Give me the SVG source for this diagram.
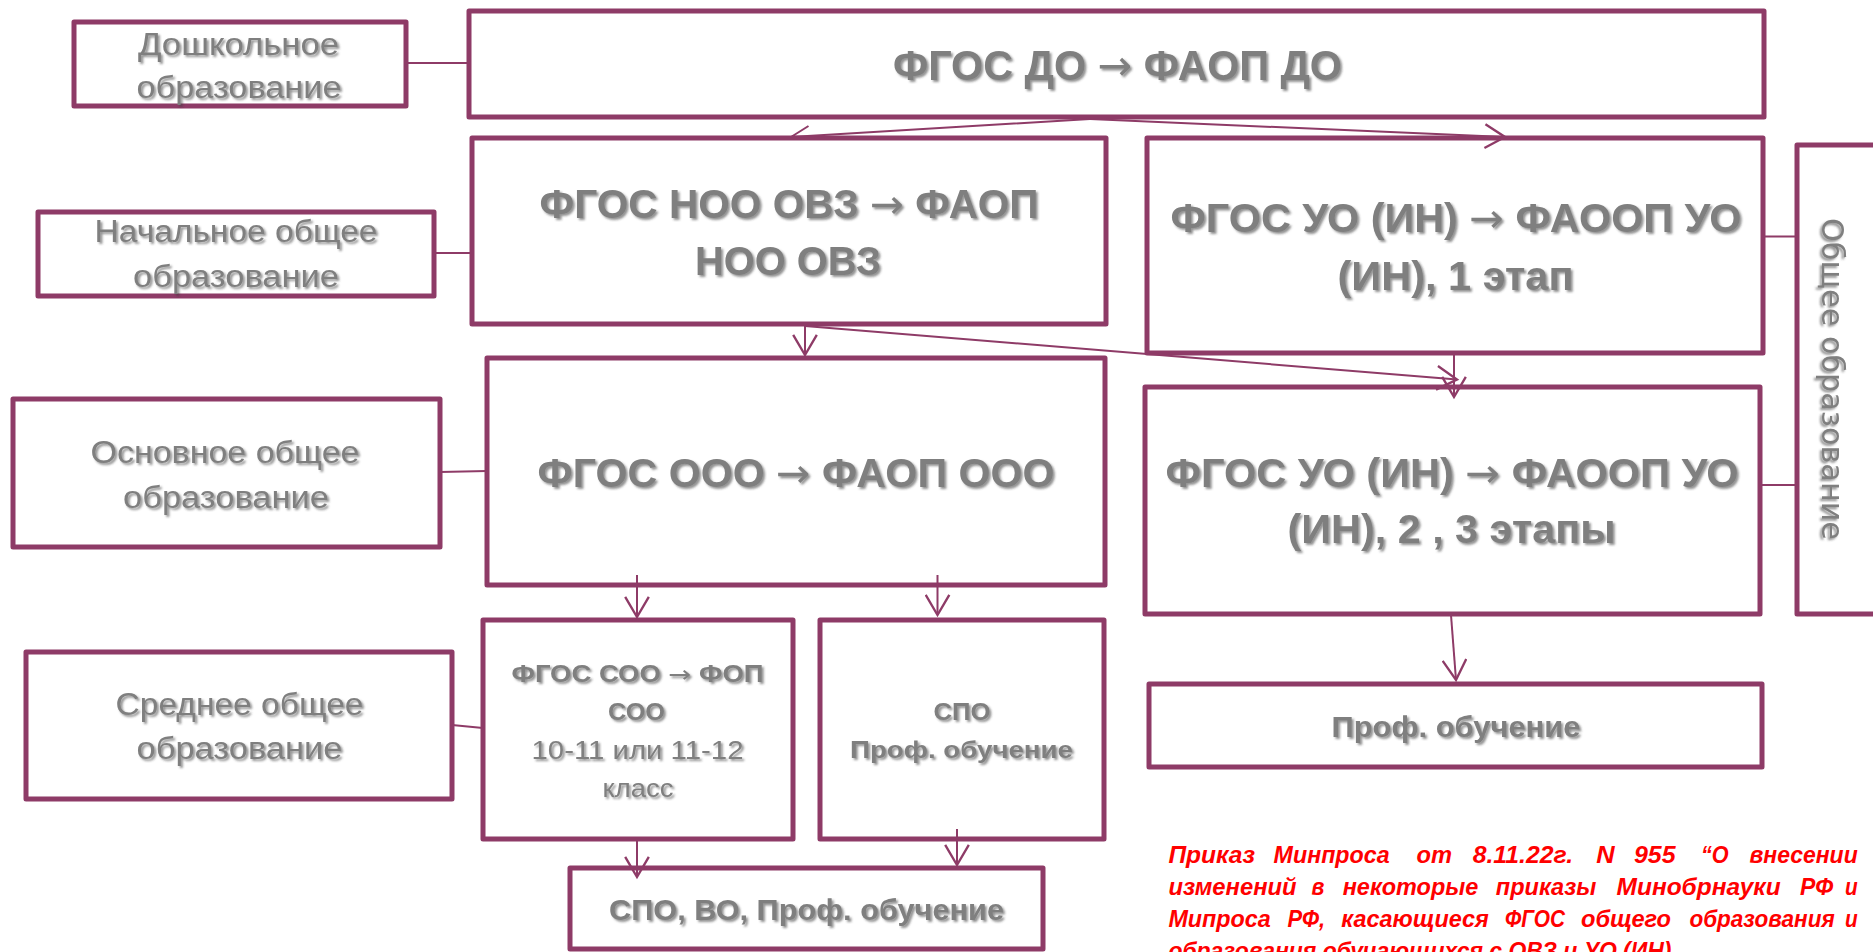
<svg xmlns="http://www.w3.org/2000/svg" width="1873" height="952" viewBox="0 0 1873 952">
<style>
.box{fill:#fff;stroke:#8e3b67;stroke-width:5;stroke-linejoin:round}
.conn{fill:none;stroke:#8e3b67;stroke-width:2}
.arr{marker-end:url(#ah)}
.t{font-family:"Liberation Sans",Arial,sans-serif;fill:#7f7f7f;text-anchor:middle;filter:url(#sh)}
.b{font-weight:bold}
.lbl{font-size:31px}
.big{font-size:40px}
.ar{font-family:"DejaVu Sans",sans-serif;font-weight:normal}
.red{font-family:"Liberation Sans",Arial,sans-serif;font-size:23.5px;font-weight:bold;font-style:italic;fill:#ff0000}
</style>
<defs>
<filter id="sh" x="-10%" y="-30%" width="120%" height="160%">
<feDropShadow dx="2" dy="2" stdDeviation="1.2" flood-color="#3a3a3a" flood-opacity="0.55"/>
</filter>
<marker id="ah" markerUnits="userSpaceOnUse" markerWidth="24" markerHeight="26" viewBox="0 0 20 22" refX="18" refY="11" orient="auto">
<path d="M1,1 L18,11 L1,21" fill="none" stroke="#8e3b67" stroke-width="2"/>
</marker>
</defs>
<rect width="1873" height="952" fill="#fff"/>

<g id="n-do-label"><rect class="box" x="74" y="22" width="332" height="84"/>
<text class="t lbl" x="238.5" y="55" textLength="201" lengthAdjust="spacingAndGlyphs">Дошкольное</text>
<text class="t lbl" x="239" y="98" textLength="205" lengthAdjust="spacingAndGlyphs">образование</text></g>

<g id="n-fgos-do"><rect class="box" x="469" y="11" width="1295" height="106"/>
<text class="t b" style="font-size:42px" x="1117.5" y="80" textLength="449" lengthAdjust="spacingAndGlyphs">ФГОС ДО <tspan class="ar">→</tspan> ФАОП ДО</text></g>

<g id="n-noo-label"><rect class="box" x="38" y="212" width="396" height="84"/>
<text class="t lbl" x="236" y="242" textLength="283" lengthAdjust="spacingAndGlyphs">Начальное общее</text>
<text class="t lbl" x="236" y="287" textLength="206" lengthAdjust="spacingAndGlyphs">образование</text></g>

<g id="n-noo"><rect class="box" x="472" y="138" width="634" height="186"/>
<text class="t b big" x="789" y="218" textLength="499" lengthAdjust="spacingAndGlyphs">ФГОС НОО ОВЗ <tspan class="ar">→</tspan> ФАОП</text>
<text class="t b big" x="788" y="275" textLength="186" lengthAdjust="spacingAndGlyphs">НОО ОВЗ</text></g>

<g id="n-uo1"><rect class="box" x="1147" y="138" width="616" height="215"/>
<text class="t b big" x="1456" y="232" textLength="571" lengthAdjust="spacingAndGlyphs">ФГОС УО (ИН) <tspan class="ar">→</tspan> ФАООП УО</text>
<text class="t b big" x="1455.5" y="290" textLength="236" lengthAdjust="spacingAndGlyphs">(ИН), 1 этап</text></g>

<g id="n-general"><rect class="box" x="1797" y="145" width="90" height="469"/>
<text transform="translate(1822,218) rotate(90)" x="0" y="0" style="font-family:'DejaVu Sans','Open Sans',sans-serif;font-size:30px;fill:#7f7f7f;filter:url(#sh)" textLength="322" lengthAdjust="spacingAndGlyphs">Общее образование</text></g>

<g id="n-ooo-label"><rect class="box" x="13" y="399" width="427" height="148"/>
<text class="t lbl" x="225" y="463" textLength="269" lengthAdjust="spacingAndGlyphs">Основное общее</text>
<text class="t lbl" x="226" y="508" textLength="206" lengthAdjust="spacingAndGlyphs">образование</text></g>

<g id="n-ooo"><rect class="box" x="487" y="358" width="618" height="227"/>
<text class="t b big" x="796" y="487" textLength="517" lengthAdjust="spacingAndGlyphs">ФГОС ООО <tspan class="ar">→</tspan> ФАОП ООО</text></g>

<g id="n-uo2"><rect class="box" x="1145" y="387" width="615" height="227"/>
<text class="t b big" x="1452" y="487" textLength="573" lengthAdjust="spacingAndGlyphs">ФГОС УО (ИН) <tspan class="ar">→</tspan> ФАООП УО</text>
<text class="t b big" x="1451.5" y="543" textLength="328" lengthAdjust="spacingAndGlyphs">(ИН), 2 , 3 этапы</text></g>

<g id="n-soo-label"><rect class="box" x="26" y="652" width="426" height="147"/>
<text class="t lbl" x="239.5" y="715" textLength="248" lengthAdjust="spacingAndGlyphs">Среднее общее</text>
<text class="t lbl" x="239.5" y="759" textLength="206" lengthAdjust="spacingAndGlyphs">образование</text></g>

<g id="n-soo"><rect class="box" x="483" y="620" width="310" height="219"/>
<text class="t b" style="font-size:23px" x="637.5" y="682" textLength="252" lengthAdjust="spacingAndGlyphs">ФГОС СОО <tspan class="ar">→</tspan> ФОП</text>
<text class="t b" style="font-size:23px" x="636.5" y="720" textLength="57" lengthAdjust="spacingAndGlyphs">СОО</text>
<text class="t" style="font-size:25px" x="637.5" y="759" textLength="212" lengthAdjust="spacingAndGlyphs">10-11 или 11-12</text>
<text class="t" style="font-size:25px" x="638" y="797" textLength="71" lengthAdjust="spacingAndGlyphs">класс</text></g>

<g id="n-spo"><rect class="box" x="820" y="620" width="284" height="219"/>
<text class="t b" style="font-size:23px" x="962" y="720" textLength="57" lengthAdjust="spacingAndGlyphs">СПО</text>
<text class="t b" style="font-size:23px" x="961.5" y="758" textLength="223" lengthAdjust="spacingAndGlyphs">Проф. обучение</text></g>

<g id="n-prof-right"><rect class="box" x="1149" y="684" width="613" height="83"/>
<text class="t b" style="font-size:30px" x="1456" y="737" textLength="249" lengthAdjust="spacingAndGlyphs">Проф. обучение</text></g>

<g id="n-bottom"><rect class="box" x="570" y="868" width="473" height="81"/>
<text class="t b" style="font-size:30px" x="806.5" y="920" textLength="395" lengthAdjust="spacingAndGlyphs">СПО, ВО, Проф. обучение</text></g>

<g id="connectors">
<line class="conn" x1="406" y1="63" x2="469" y2="63"/>
<line class="conn" x1="434" y1="253" x2="472" y2="253"/>
<line class="conn" x1="440" y1="472" x2="487" y2="471"/>
<line class="conn" x1="452" y1="725" x2="483" y2="728"/>
<line class="conn" x1="1763" y1="236.5" x2="1797" y2="236.5"/>
<line class="conn" x1="1760" y1="485" x2="1797" y2="485"/>
<path class="conn" d="M1090,119 L791,137 M791,137 L808.5,126"/>
<line class="conn arr" x1="1090" y1="119" x2="1505" y2="137"/>
<line class="conn arr" x1="805" y1="326" x2="805" y2="355"/>
<line class="conn arr" x1="805" y1="326" x2="1457" y2="379.5"/>
<line class="conn arr" x1="1454" y1="353" x2="1454" y2="397"/>
<line class="conn arr" x1="637" y1="575" x2="637" y2="617"/>
<line class="conn arr" x1="937.5" y1="575" x2="937.5" y2="615"/>
<line class="conn arr" x1="1451" y1="615" x2="1456" y2="680"/>
<line class="conn arr" x1="637" y1="840" x2="637" y2="877"/>
<line class="conn arr" x1="957" y1="829" x2="957" y2="865"/>
</g>

<g id="note">
<text class="red" y="863"><tspan x="1168.4" textLength="86.7" lengthAdjust="spacingAndGlyphs">Приказ</tspan><tspan x="1273.6" textLength="116" lengthAdjust="spacingAndGlyphs">Минпроса</tspan><tspan x="1416.5" textLength="35.5" lengthAdjust="spacingAndGlyphs">от</tspan><tspan x="1472.7" textLength="100.5" lengthAdjust="spacingAndGlyphs">8.11.22г.</tspan><tspan x="1596.3" textLength="18.4" lengthAdjust="spacingAndGlyphs">N</tspan><tspan x="1634" textLength="41.6" lengthAdjust="spacingAndGlyphs">955</tspan><tspan x="1701" textLength="27.6" lengthAdjust="spacingAndGlyphs">“О</tspan><tspan x="1749.4" textLength="108.3" lengthAdjust="spacingAndGlyphs">внесении</tspan></text>
<text class="red" y="895"><tspan x="1168.4" textLength="128.2" lengthAdjust="spacingAndGlyphs">изменений</tspan><tspan x="1311.4" textLength="12.9" lengthAdjust="spacingAndGlyphs">в</tspan><tspan x="1342.7" textLength="135.6" lengthAdjust="spacingAndGlyphs">некоторые</tspan><tspan x="1495.8" textLength="100.5" lengthAdjust="spacingAndGlyphs">приказы</tspan><tspan x="1616.6" textLength="164.1" lengthAdjust="spacingAndGlyphs">Минобрнауки</tspan><tspan x="1800" textLength="33.3" lengthAdjust="spacingAndGlyphs">РФ</tspan><tspan x="1845" textLength="12.7" lengthAdjust="spacingAndGlyphs">и</tspan></text>
<text class="red" y="927"><tspan x="1168.4" textLength="102.4" lengthAdjust="spacingAndGlyphs">Мипроса</tspan><tspan x="1287.4" textLength="37.8" lengthAdjust="spacingAndGlyphs">РФ,</tspan><tspan x="1341.3" textLength="147.6" lengthAdjust="spacingAndGlyphs">касающиеся</tspan><tspan x="1505" textLength="60" lengthAdjust="spacingAndGlyphs">ФГОС</tspan><tspan x="1581" textLength="90" lengthAdjust="spacingAndGlyphs">общего</tspan><tspan x="1689.4" textLength="145.3" lengthAdjust="spacingAndGlyphs">образования</tspan><tspan x="1845" textLength="12.7" lengthAdjust="spacingAndGlyphs">и</tspan></text>
<text class="red" x="1168.4" y="959" textLength="503" lengthAdjust="spacingAndGlyphs">образования обучающихся с ОВЗ и УО (ИН)</text>
</g>
</svg>
